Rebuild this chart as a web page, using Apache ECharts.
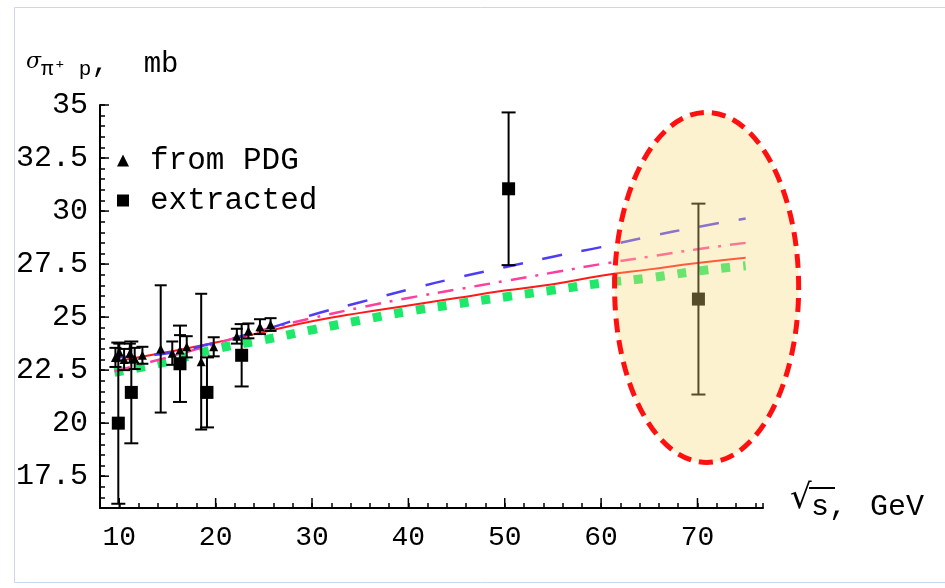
<!DOCTYPE html>
<html>
<head>
<meta charset="utf-8">
<script src="https://cdn.jsdelivr.net/npm/echarts@6/dist/echarts.min.js"></script>
<style>
    html, body { margin: 0; padding: 0; background: #fff; }
    #main { width: 945px; height: 588px; }
</style>
</head>
<body>
<div id="main"></div>
<script>
// PDG points: sqrt(s), sigma, error
const pdgX = [9.6, 10.0, 10.5, 11.1, 11.6, 12.4, 14.3, 15.5, 16.3, 17.0, 18.5, 19.8, 22.2, 23.4, 24.6, 25.7]
const pdgY = [23.1, 23.35, 23.0, 23.3, 23.05, 23.2, 23.5, 23.3, 23.45, 23.6, 22.9, 23.6, 24.1, 24.35, 24.55, 24.65]
const pdgErr = [0.45, 0.4, 0.5, 0.45, 0.5, 0.4, 3.0, 0.55, 0.7, 0.5, 3.2, 0.45, 0.35, 0.35, 0.35, 0.3]

// extracted points
const extX = [9.9, 11.25, 16.3, 19.1, 22.7, 50.4, 70.1]
const extY = [20.0, 21.45, 22.8, 21.45, 23.2, 31.05, 25.85]
const extErr = [3.8, 2.4, 1.8, 1.65, 1.47, 3.6, 4.5]

// model curves
const curveX = [9.5, 15, 20, 25, 30, 35, 40, 45, 50, 55, 60, 65, 70, 75]
const blueY = [23.1, 23.3, 23.8, 24.4, 25.1, 25.7, 26.3, 26.85, 27.35, 27.85, 28.3, 28.8, 29.25, 29.65]
const magentaY = [22.45, 23.1, 23.75, 24.4, 24.95, 25.45, 25.9, 26.3, 26.7, 27.1, 27.5, 27.85, 28.2, 28.5]
const redY = [22.9, 23.35, 23.8, 24.3, 24.8, 25.2, 25.55, 25.9, 26.25, 26.55, 26.95, 27.25, 27.55, 27.8]
const greenY = [22.4, 22.9, 23.5, 23.93, 24.4, 24.85, 25.27, 25.62, 25.95, 26.27, 26.6, 26.85, 27.17, 27.42]

// axes
const xMajorTicks = [10, 20, 30, 40, 50, 60, 70]
const yMajorTicks = [17.5, 20, 22.5, 25, 27.5, 30, 32.5, 35]
const X_MIN = 8, X_MAX = 76.8, Y_MIN = 16, Y_MAX = 35

// highlighted region (center x, center y, half-width, half-height), data units
const ellipse = [70.95, 26.4, 9.55, 8.25]

const FONT = '"Liberation Mono", "DejaVu Sans Mono", monospace'

function zip3(a, b, c) {
    return a.map((v, i) => [v, b[i], c[i]])
}

function errorBars(hw) {
    return function (params, api) {
        const x = api.value(0), y = api.value(1), e = api.value(2)
        const top = api.coord([x, y + e])
        const bot = api.coord([x, y - e])
        const st = { stroke: '#000', lineWidth: 2 }
        return {
            type: 'group',
            children: [
                { type: 'line', shape: { x1: top[0], y1: top[1], x2: bot[0], y2: bot[1] }, style: st },
                { type: 'line', shape: { x1: top[0] - hw, y1: top[1], x2: top[0] + hw, y2: top[1] }, style: st },
                { type: 'line', shape: { x1: bot[0] - hw, y1: bot[1], x2: bot[0] + hw, y2: bot[1] }, style: st }
            ]
        }
    }
}

var myChart = echarts.init(document.getElementById('main'))

var option = {
    animation: false,
    backgroundColor: '#fff',
    grid: { left: 100, right: 182, top: 105, bottom: 80 },
    legend: {
        orient: 'vertical',
        left: 112,
        top: 140,
        itemGap: 9,
        itemWidth: 12,
        itemHeight: 12,
        data: [
            { name: 'from PDG', icon: 'triangle', itemStyle: { opacity: 1 } },
            { name: 'extracted', icon: 'rect', itemStyle: { opacity: 1 } }
        ],
        textStyle: { fontFamily: FONT, fontSize: 31, color: '#000', padding: [0, 0, 0, 16] }
    },
    xAxis: {
        type: 'value',
        min: X_MIN,
        max: X_MAX,
        interval: 2,
        splitLine: { show: false },
        axisLine: { lineStyle: { color: '#000', width: 2 } },
        axisTick: { inside: true, length: 5, lineStyle: { color: '#000', width: 1.5 } },
        axisLabel: {
            color: '#000', fontFamily: FONT, fontSize: 28, margin: 16,
            formatter: v => (v % 10 === 0 ? String(v) : '')
        }
    },
    yAxis: {
        type: 'value',
        min: Y_MIN,
        max: Y_MAX,
        interval: 0.5,
        splitLine: { show: false },
        axisLine: { lineStyle: { color: '#000', width: 2 } },
        axisTick: { inside: true, length: 5, lineStyle: { color: '#000', width: 1.5 } },
        axisLabel: {
            color: '#000', fontFamily: FONT, fontSize: 30, margin: 12,
            formatter: v => (v >= 17.5 && Math.abs((v * 2) % 5) < 1e-6 ? String(v) : '')
        }
    },
    series: [
        {
            type: 'line', data: curveX.map((x, i) => [x, greenY[i]]), showSymbol: false, smooth: true,
            lineStyle: { color: '#1ee86a', width: 9, type: [9, 13], cap: 'butt' }, z: 2
        },
        {
            type: 'line', data: curveX.map((x, i) => [x, redY[i]]), showSymbol: false, smooth: true,
            lineStyle: { color: '#ff1a1a', width: 2 }, z: 3
        },
        {
            type: 'line', data: curveX.map((x, i) => [x, magentaY[i]]), showSymbol: false, smooth: true,
            lineStyle: { color: '#ff3fa0', width: 2.5, type: [16, 9, 3, 9] }, z: 3
        },
        {
            type: 'line', data: curveX.map((x, i) => [x, blueY[i]]), showSymbol: false, smooth: true,
            lineStyle: { color: '#4f3cf5', width: 2.5, type: [20, 20] }, z: 3
        },
        {
            type: 'custom', renderItem: errorBars(6), data: zip3(pdgX, pdgY, pdgErr),
            encode: { x: 0, y: 1 }, z: 4
        },
        {
            type: 'custom', renderItem: errorBars(7), data: zip3(extX, extY, extErr),
            encode: { x: 0, y: 1 }, z: 4
        },
        {
            name: 'from PDG', type: 'scatter', symbol: 'triangle', symbolSize: 9,
            data: pdgX.map((x, i) => [x, pdgY[i]]), itemStyle: { color: '#000', opacity: 1 }, z: 5
        },
        {
            name: 'extracted', type: 'scatter', symbol: 'rect', symbolSize: 13,
            data: extX.map((x, i) => [x, extY[i]]), itemStyle: { color: '#000', opacity: 1 }, z: 5
        },
        // longer major ticks
        {
            type: 'custom', silent: true, z: 6,
            data: xMajorTicks,
            encode: { x: 0 },
            renderItem: function (params, api) {
                const p = api.coord([api.value(0), Y_MIN])
                return { type: 'line', shape: { x1: p[0], y1: p[1], x2: p[0], y2: p[1] - 10 }, style: { stroke: '#000', lineWidth: 1.5 } }
            }
        },
        {
            type: 'custom', silent: true, z: 6,
            data: yMajorTicks.map(v => [X_MIN, v]),
            encode: { x: 0, y: 1 },
            renderItem: function (params, api) {
                const p = api.coord([X_MIN, api.value(1)])
                return { type: 'line', shape: { x1: p[0], y1: p[1], x2: p[0] + 9, y2: p[1] }, style: { stroke: '#000', lineWidth: 1.5 } }
            }
        }
    ]
}

myChart.setOption(option)

// annotations placed from data coordinates
const c = myChart.convertToPixel({ gridIndex: 0 }, [ellipse[0], ellipse[1]])
const e1 = myChart.convertToPixel({ gridIndex: 0 }, [ellipse[0] + ellipse[2], ellipse[1] + ellipse[3]])
const sq = myChart.convertToPixel({ gridIndex: 0 }, [X_MAX, Y_MIN])

myChart.setOption({
    graphic: [
        {
            type: 'rect', z: 0, silent: true,
            shape: { x: 14.5, y: 7.5, width: 940, height: 575 },
            style: { fill: null, stroke: '#c9d6ee', lineWidth: 1 }
        },
        {
            type: 'ellipse', z: 100, silent: true,
            shape: { cx: c[0], cy: c[1], rx: e1[0] - c[0], ry: c[1] - e1[1] },
            style: { fill: 'rgba(250, 218, 120, 0.35)', stroke: '#ff1010', lineWidth: 5, lineDash: [14, 8] }
        },
        {
            type: 'text', left: 26, top: 50, z: 100,
            style: {
                text: '{s|σ}{sub|π⁺ p}{n|,  mb}',
                rich: {
                    s: { fontFamily: 'DejaVu Serif', fontStyle: 'italic', fontSize: 22, fill: '#000', padding: [0, 0, 4, 0] },
                    sub: { fontFamily: FONT, fontSize: 21, fill: '#000', padding: [10, 0, 0, 0] },
                    n: { fontFamily: FONT, fontSize: 29, fill: '#000' }
                }
            }
        },
        {
            type: 'text', left: sq[0] + 27, top: sq[1] - 26, z: 100,
            style: { text: '√', fontFamily: 'DejaVu Sans', fontSize: 34, fill: '#000' }
        },
        {
            type: 'line', z: 100,
            shape: { x1: sq[0] + 46, y1: sq[1] - 20, x2: sq[0] + 72, y2: sq[1] - 20 },
            style: { stroke: '#000', lineWidth: 2 }
        },
        {
            type: 'text', left: sq[0] + 48, top: sq[1] - 16, z: 100,
            style: { text: 's,', fontFamily: FONT, fontSize: 30, fill: '#000' }
        },
        {
            type: 'text', left: sq[0] + 107, top: sq[1] - 16, z: 100,
            style: { text: 'GeV', fontFamily: FONT, fontSize: 30, fill: '#000' }
        }
    ]
})
</script>
</body>
</html>
